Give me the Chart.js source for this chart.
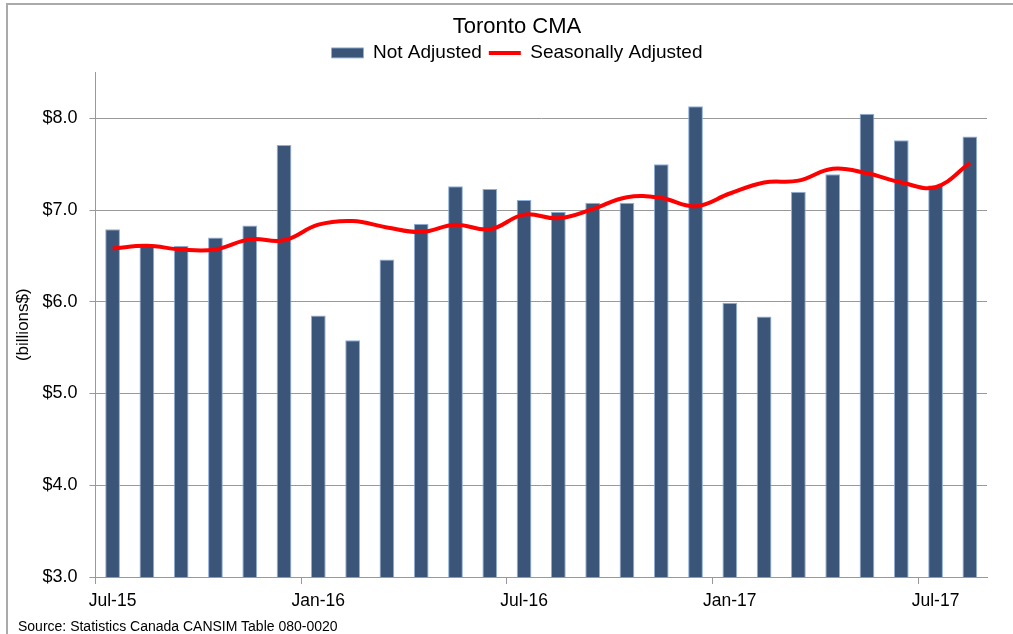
<!DOCTYPE html>
<html>
<head>
<meta charset="utf-8">
<script src="https://cdn.jsdelivr.net/npm/chart.js@4.4.1/dist/chart.umd.min.js"></script>
<style>
  html, body { margin: 0; padding: 0; background: #fff; overflow: hidden; }
  #frame {
    position: absolute; left: 6px; top: 3px; width: 1007px; height: 631px;
    border-left: 2px solid #aaa; border-top: 2px solid #aaa; box-sizing: border-box;
  }
  /* a bit wider than the window: the original chart was cropped on the right */
  #wrap { position: absolute; left: 0; top: 0; width: 1021px; height: 634px; }
  #source {
    position: absolute; left: 18px; top: 618px;
    font: 14px 'Liberation Sans', Arial, sans-serif; color: #000; white-space: nowrap;
  }
</style>
</head>
<body>
<div id="frame"></div>
<div id="wrap"><canvas id="chart"></canvas></div>
<div id="source">Source: Statistics Canada CANSIM Table 080-0020</div>
<script>
// monthly data, Jul-15 .. Aug-17
const months = ['Jul-15', 'Aug-15', 'Sep-15', 'Oct-15', 'Nov-15', 'Dec-15',
  'Jan-16', 'Feb-16', 'Mar-16', 'Apr-16', 'May-16', 'Jun-16',
  'Jul-16', 'Aug-16', 'Sep-16', 'Oct-16', 'Nov-16', 'Dec-16',
  'Jan-17', 'Feb-17', 'Mar-17', 'Apr-17', 'May-17', 'Jun-17',
  'Jul-17', 'Aug-17'];
const shownTicks = ['Jul-15', 'Jan-16', 'Jul-16', 'Jan-17', 'Jul-17'];

const notAdjusted = [6.79, 6.63, 6.61, 6.70, 6.83, 7.71,
  5.85, 5.58, 6.46, 6.85, 7.26, 7.23,
  7.11, 6.98, 7.08, 7.08, 7.50, 8.13,
  5.99, 5.84, 7.20, 7.39, 8.05, 7.76,
  7.27, 7.80];
const seasonallyAdjusted = [6.58, 6.61, 6.57, 6.57, 6.68, 6.67,
  6.84, 6.88, 6.81, 6.76, 6.84, 6.79,
  6.95, 6.91, 7.01, 7.14, 7.13, 7.04,
  7.18, 7.30, 7.32, 7.45, 7.40, 7.30,
  7.25, 7.51];

const FONT = "'Liberation Sans', Arial, sans-serif";
Chart.defaults.font.family = FONT;
Chart.defaults.color = '#000';

new Chart(document.getElementById('chart'), {
  type: 'bar',
  data: {
    labels: months,
    datasets: [
      {
        label: 'Not Adjusted',
        data: notAdjusted,
        backgroundColor: '#3b5579',
        borderColor: '#8fb0dc',
        borderWidth: 1,
        barPercentage: 0.43,
        categoryPercentage: 1,
        pointStyle: 'rect',
        order: 1
      },
      {
        type: 'line',
        label: 'Seasonally Adjusted',
        data: seasonallyAdjusted,
        borderColor: '#ff0000',
        backgroundColor: '#ff0000',
        borderWidth: 4,
        pointRadius: 0,
        tension: 0.4,
        pointStyle: 'line',
        order: 0
      }
    ]
  },
  options: {
    responsive: true,
    maintainAspectRatio: false,
    animation: false,
    layout: { padding: { left: 13, right: 0, top: 6, bottom: 15 } },
    plugins: {
      title: {
        display: true,
        text: 'Toronto CMA',
        font: { size: 22, weight: 'normal' },
        padding: { top: 8, bottom: -4 }
      },
      legend: {
        position: 'top',
        labels: {
          usePointStyle: true,
          pointStyleWidth: 32,
          boxHeight: 10,
          padding: 7,
          font: { size: 19 },
          sort: (a, b) => a.datasetIndex - b.datasetIndex
        }
      },
      tooltip: { enabled: false }
    },
    scales: {
      x: {
        grid: {
          offset: true,
          drawOnChartArea: false,
          tickLength: 7,
          tickColor: ctx => (ctx.index % 6 === 0 ? '#999' : 'rgba(0,0,0,0)')
        },
        border: { color: '#999', width: 1 },
        ticks: {
          autoSkip: false,
          maxRotation: 0,
          font: { size: 17.5 },
          padding: 7,
          callback: function (val) {
            const lbl = this.getLabelForValue(val);
            return shownTicks.includes(lbl) ? lbl : '';
          }
        }
      },
      y: {
        min: 3,
        max: 8.5,
        afterBuildTicks: axis => {
          axis.ticks = axis.ticks.filter(t => Number.isInteger(t.value));
        },
        grid: { color: '#999', lineWidth: 1, tickLength: 6 },
        border: { color: '#999', width: 1 },
        ticks: {
          stepSize: 1,
          font: { size: 18 },
          padding: 12,
          callback: v => '$' + v.toFixed(1)
        },
        title: {
          display: true,
          text: '(billions$)',
          font: { size: 17 },
          padding: { top: 0, bottom: -3 }
        }
      },
      // empty spacer on the right so the plot ends where the original does
      spacer: {
        position: 'right',
        display: true,
        grid: { display: false },
        border: { display: false },
        ticks: { display: false },
        afterFit: s => { s.width = 34; }
      }
    }
  }
});
</script>
</body>
</html>
